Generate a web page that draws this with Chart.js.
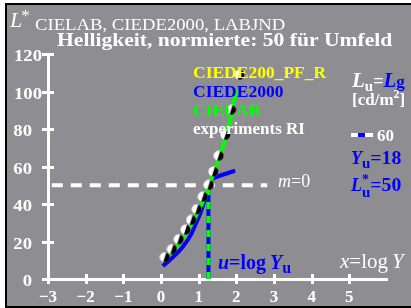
<!DOCTYPE html>
<html><head><meta charset="utf-8">
<script src="https://cdn.jsdelivr.net/npm/chart.js@4.4.1/dist/chart.umd.min.js"></script>
<style>html,body{margin:0;padding:0;background:#fff;overflow:hidden}#wrap{width:411px;height:308px}</style>
</head><body><div id="wrap"><canvas id="c" width="411" height="308"></canvas></div>
<script>
// ---- data ----
const xTickValues = [-3, -2, -1, 0, 1, 2, 3, 4, 5];
const xTickLabels = ['−3', '−2', '−1', '0', '1', '2', '3', '4', '5'];
const yTickValues = [0, 20, 40, 60, 80, 100, 120];
const yTickLabels = ['0', '20', '40', '60', '80', '100', '120'];

const expX = [0.10, 0.29, 0.47, 0.65, 0.80, 0.95, 1.11, 1.27, 1.39, 1.53, 1.71, 1.86, 2.08];
const expY = [11.6, 15.9, 21.2, 26.3, 31.5, 37.2, 43.9, 50.2, 57.3, 65.7, 76.9, 90.2, 108.9];

const labX = [0.10, 0.30, 0.50, 0.70, 0.90, 1.10, 1.26, 1.40, 1.60, 1.80, 2.00];
const labY = [10.9, 14.8, 19.7, 25.5, 32.5, 40.8, 49.0, 56.5, 67.5, 82.0, 101.0];

const de2000X = [0.05, 0.30, 0.58, 0.80, 0.93, 1.05, 1.15, 1.22, 1.27, 1.33, 1.50, 1.70, 1.97];
const de2000Y = [6.9, 11.3, 17.2, 23.8, 29.7, 35.3, 41.3, 45.5, 49.0, 52.5, 54.6, 56.0, 57.8];

const uLineX = [1.26, 1.26];
const uLineY = [0, 50];
const midLineX = [-2.9, 2.82];
const midLineY = [50, 50];

const toPts = (xs, ys) => xs.map((x, i) => ({x, y: ys[i]}));

function makeDot() {
  const c = document.createElement('canvas');
  c.width = 11; c.height = 11;
  const g = c.getContext('2d');
  g.beginPath(); g.arc(5.5, 5.5, 5, 0, Math.PI * 2); g.fillStyle = '#fff'; g.fill();
  g.beginPath(); g.moveTo(5.5, 5.5); g.arc(5.5, 5.5, 5, -Math.PI * 0.4, Math.PI * 0.6); g.closePath();
  g.fillStyle = '#000'; g.fill();
  return c;
}

const FAM = '"Liberation Serif", "Times New Roman", serif';
function txt(ctx, s, x, y, o = {}) {
  const size = o.size || 17, bold = o.bold !== false, italic = !!o.italic, sx = o.sx || 1;
  ctx.save();
  ctx.font = `${italic ? 'italic ' : ''}${bold ? 'bold ' : ''}${size}px ${FAM}`;
  ctx.fillStyle = o.color || '#fff';
  ctx.textAlign = o.align || 'left';
  ctx.textBaseline = 'alphabetic';
  ctx.translate(x, y); ctx.scale(sx, 1);
  ctx.fillText(s, 0, 0);
  const w = ctx.measureText(s).width * sx;
  ctx.restore();
  return x + w;
}

const bgPlugin = {
  id: 'bg',
  beforeDraw(chart) {
    const ctx = chart.ctx;
    ctx.save();
    ctx.fillStyle = '#fff'; ctx.fillRect(0, 0, 411, 308);
    ctx.fillStyle = '#000'; ctx.fillRect(5, 3, 406, 305);
    ctx.fillStyle = '#8d8d92'; ctx.fillRect(7, 5, 404, 301);
    ctx.restore();
  }
};

const axisPlugin = {
  id: 'axisDeco',
  afterDraw(chart) {
    const ctx = chart.ctx;
    const xs = chart.scales.x, ys = chart.scales.y;
    const a = chart.chartArea;
    ctx.save();
    ctx.strokeStyle = '#fff'; ctx.lineWidth = 3;
    xTickValues.forEach(v => {
      const px = Math.round(xs.getPixelForValue(v)) + 0.5;
      ctx.beginPath(); ctx.moveTo(px, a.bottom - 5); ctx.lineTo(px, a.bottom + 5); ctx.stroke();
    });
    yTickValues.forEach((v, i) => {
      const py = Math.round(ys.getPixelForValue(v)) + 0.5;
      ctx.beginPath(); ctx.moveTo(a.left - 6, py); ctx.lineTo(a.left + 6, py); ctx.stroke();
      const lab = yTickLabels[i];
      if (lab.length >= 3) txt(ctx, lab, 14, py + 6, {size: 17, sx: 1.1});
      else txt(ctx, lab, 32, py + 6, {size: 17, sx: 1.1, align: 'right'});
    });
    ctx.restore();

    // texts
    let e = txt(ctx, 'L', 10, 27, {size: 22, bold: false, italic: true});
    txt(ctx, '*', e - 1, 21, {size: 17, bold: false});
    txt(ctx, 'CIELAB, CIEDE2000, LABJND', 35, 30, {size: 17, bold: false, sx: 1.1});
    txt(ctx, 'Helligkeit, normierte: 50 für Umfeld', 57, 46, {size: 18, sx: 1.2});

    txt(ctx, 'CIEDE200_PF_R', 193, 78, {size: 17.5, color: '#ffff00'});
    txt(ctx, 'CIEDE2000', 193, 97, {size: 17.5, color: '#0000ff'});
    txt(ctx, 'CIELAB', 193, 116, {size: 17.5, color: '#00ff00'});
    txt(ctx, 'experiments RI', 193, 134, {size: 17});

    e = txt(ctx, 'L', 352, 87, {size: 21, italic: true});
    e = txt(ctx, 'u', e, 91, {size: 15});
    e = txt(ctx, '=', e, 87, {size: 18});
    e = txt(ctx, 'L', e, 87, {size: 21, italic: true, color: '#0000ff'});
    txt(ctx, 'g', e, 87, {size: 17, color: '#0000ff'});
    e = txt(ctx, '[cd/m', 352, 105, {size: 17});
    e = txt(ctx, '2', e, 98, {size: 12});
    txt(ctx, ']', e, 105, {size: 17});

    ctx.save();
    ctx.lineWidth = 4;
    ctx.strokeStyle = '#fff';
    ctx.beginPath(); ctx.moveTo(351, 135); ctx.lineTo(373, 135); ctx.stroke();
    ctx.strokeStyle = '#0000ff';
    ctx.beginPath(); ctx.moveTo(358, 135); ctx.lineTo(365, 135); ctx.stroke();
    ctx.restore();
    txt(ctx, '60', 377, 141, {size: 17});

    e = txt(ctx, 'Y', 351, 164, {size: 18, italic: true, color: '#0000ff'});
    e = txt(ctx, 'u', e, 168, {size: 15, color: '#0000ff'});
    txt(ctx, '=18', e, 164, {size: 18, sx: 1.1, color: '#0000ff'});
    e = txt(ctx, 'L', 351, 191, {size: 18, italic: true, color: '#0000ff'});
    txt(ctx, '*', e, 184, {size: 14, color: '#0000ff'});
    e = txt(ctx, 'u', e, 197, {size: 15, color: '#0000ff'});
    txt(ctx, '=50', e, 191, {size: 18, sx: 1.1, color: '#0000ff'});

    e = txt(ctx, 'm', 278, 187, {size: 18, bold: false, italic: true});
    txt(ctx, '=0', e, 187, {size: 18, bold: false});

    e = txt(ctx, 'u', 218, 269, {size: 20, italic: true, color: '#0000ff'});
    e = txt(ctx, '=log', e, 269, {size: 20, color: '#0000ff'});
    e = txt(ctx, 'Y', e + 4, 269, {size: 20, italic: true, color: '#0000ff'});
    txt(ctx, 'u', e, 273, {size: 16, color: '#0000ff'});

    e = txt(ctx, 'x', 340, 268, {size: 21, bold: false, italic: true});
    e = txt(ctx, '=log', e, 268, {size: 21, bold: false});
    txt(ctx, 'Y', e + 4, 268, {size: 21, bold: false, italic: true});
  }
};

new Chart(document.getElementById('c'), {
  type: 'scatter',
  data: {
    datasets: [
      {label: 'experiments RI', data: toPts(expX, expY), showLine: false, pointStyle: makeDot(), pointRadius: 5, order: 0},
      {label: 'CIELAB', data: toPts(labX, labY), showLine: true, borderColor: '#00ff00', borderWidth: 4, pointRadius: 0, tension: 0.3, order: 1},
      {label: 'u green', data: toPts(uLineX, uLineY), showLine: true, borderColor: '#00ff00', borderWidth: 4, borderDash: [7, 7], pointRadius: 0, order: 2},
      {label: 'u blue', data: toPts(uLineX, uLineY), showLine: true, borderColor: '#0000ff', borderWidth: 4, pointRadius: 0, order: 3},
      {label: 'CIEDE2000', data: toPts(de2000X, de2000Y), showLine: true, borderColor: '#0000ff', borderWidth: 4, pointRadius: 0, cubicInterpolationMode: 'monotone', order: 4},
      {label: 'm=0', data: toPts(midLineX, midLineY), showLine: true, borderColor: '#fff', borderWidth: 4, borderDash: [11, 8], pointRadius: 0, order: 5}
    ]
  },
  options: {
    responsive: false, animation: false, devicePixelRatio: 1,
    layout: {padding: {left: 0, top: 54, right: 24, bottom: 0}},
    plugins: {legend: {display: false}, tooltip: {enabled: false}},
    scales: {
      x: {
        type: 'linear', min: -3, max: 6,
        afterBuildTicks: s => { s.ticks = xTickValues.map(v => ({value: v})); },
        afterFit: s => { s.height = 29; },
        grid: {display: false, drawTicks: false},
        border: {display: true, color: '#fff', width: 3},
        ticks: {
          color: '#fff', padding: 8, maxRotation: 0, autoSkip: false,
          font: {family: FAM, size: 17, weight: 'bold'},
          callback: v => { const i = xTickValues.indexOf(v); return i >= 0 ? xTickLabels[i] : ''; }
        }
      },
      y: {
        type: 'linear', min: 0, max: 120,
        afterBuildTicks: s => { s.ticks = yTickValues.map(v => ({value: v})); },
        afterFit: s => { s.width = 48; },
        grid: {display: false, drawTicks: false},
        border: {display: true, color: '#fff', width: 3},
        ticks: {display: false}
      }
    }
  },
  plugins: [bgPlugin, axisPlugin]
});
</script>
</body></html>
